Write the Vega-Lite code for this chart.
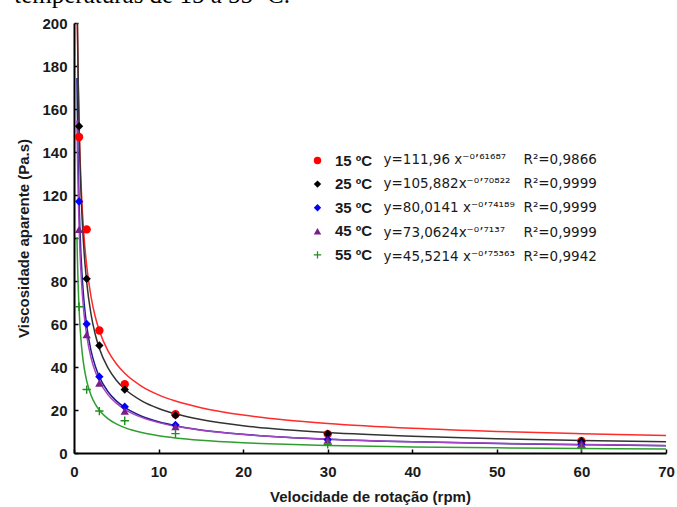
{
  "$schema": "https://vega.github.io/schema/vega-lite/v6.json",
  "width": 592,
  "height": 430,
  "autosize": {"type": "none"},
  "padding": {"left": 74, "top": 23, "right": 11, "bottom": 54},
  "background": "white",
  "config": {"view": {"stroke": null}},
  "title": {
    "text": "temperaturas de 15 a 55 ºC.",
    "anchor": "end",
    "orient": "top",
    "frame": "group",
    "font": "Liberation Serif",
    "fontSize": 25,
    "fontWeight": "normal",
    "color": "#000000",
    "baseline": "alphabetic",
    "offset": 0,
    "dx": -376,
    "dy": 12
  },
  "datasets": {
    "curves": [
      {"T": "15 ºC", "x": 0.35, "y": 213.9}, {"T": "15 ºC", "x": 0.4, "y": 197.0}, {"T": "15 ºC", "x": 0.5, "y": 171.7}, {"T": "15 ºC", "x": 0.6, "y": 153.4}, {"T": "15 ºC", "x": 0.7, "y": 139.5}, {"T": "15 ºC", "x": 0.8, "y": 128.5}, {"T": "15 ºC", "x": 1, "y": 111.96}, {"T": "15 ºC", "x": 1.2, "y": 100.05}, {"T": "15 ºC", "x": 1.5, "y": 87.18}, {"T": "15 ºC", "x": 2, "y": 73.01}, {"T": "15 ºC", "x": 2.5, "y": 63.62}, {"T": "15 ºC", "x": 3, "y": 56.85}, {"T": "15 ºC", "x": 4, "y": 47.61}, {"T": "15 ºC", "x": 5, "y": 41.49}, {"T": "15 ºC", "x": 6, "y": 37.07}, {"T": "15 ºC", "x": 8, "y": 31.04}, {"T": "15 ºC", "x": 10, "y": 27.05}, {"T": "15 ºC", "x": 12, "y": 24.17}, {"T": "15 ºC", "x": 15, "y": 21.07}, {"T": "15 ºC", "x": 20, "y": 17.64}, {"T": "15 ºC", "x": 25, "y": 15.37}, {"T": "15 ºC", "x": 30, "y": 13.74}, {"T": "15 ºC", "x": 40, "y": 11.5}, {"T": "15 ºC", "x": 50, "y": 10.02}, {"T": "15 ºC", "x": 60, "y": 8.96}, {"T": "15 ºC", "x": 70, "y": 8.14},
      {"T": "25 ºC", "x": 0.35, "y": 222.7}, {"T": "25 ºC", "x": 0.4, "y": 202.6}, {"T": "25 ºC", "x": 0.5, "y": 173.0}, {"T": "25 ºC", "x": 0.6, "y": 152.0}, {"T": "25 ºC", "x": 0.7, "y": 136.3}, {"T": "25 ºC", "x": 0.8, "y": 124.0}, {"T": "25 ºC", "x": 1, "y": 105.88}, {"T": "25 ºC", "x": 1.2, "y": 93.06}, {"T": "25 ºC", "x": 1.5, "y": 79.45}, {"T": "25 ºC", "x": 2, "y": 64.81}, {"T": "25 ºC", "x": 2.5, "y": 55.33}, {"T": "25 ºC", "x": 3, "y": 48.63}, {"T": "25 ºC", "x": 4, "y": 39.67}, {"T": "25 ºC", "x": 5, "y": 33.87}, {"T": "25 ºC", "x": 6, "y": 29.77}, {"T": "25 ºC", "x": 8, "y": 24.28}, {"T": "25 ºC", "x": 10, "y": 20.73}, {"T": "25 ºC", "x": 12, "y": 18.22}, {"T": "25 ºC", "x": 15, "y": 15.56}, {"T": "25 ºC", "x": 20, "y": 12.69}, {"T": "25 ºC", "x": 25, "y": 10.83}, {"T": "25 ºC", "x": 30, "y": 9.52}, {"T": "25 ºC", "x": 40, "y": 7.77}, {"T": "25 ºC", "x": 50, "y": 6.63}, {"T": "25 ºC", "x": 60, "y": 5.83}, {"T": "25 ºC", "x": 70, "y": 5.23},
      {"T": "35 ºC", "x": 0.35, "y": 174.4}, {"T": "35 ºC", "x": 0.4, "y": 157.9}, {"T": "35 ºC", "x": 0.5, "y": 133.8}, {"T": "35 ºC", "x": 0.6, "y": 116.9}, {"T": "35 ºC", "x": 0.7, "y": 104.25}, {"T": "35 ºC", "x": 0.8, "y": 94.42}, {"T": "35 ºC", "x": 1, "y": 80.01}, {"T": "35 ºC", "x": 1.2, "y": 69.89}, {"T": "35 ºC", "x": 1.5, "y": 59.23}, {"T": "35 ºC", "x": 2, "y": 47.84}, {"T": "35 ºC", "x": 2.5, "y": 40.54}, {"T": "35 ºC", "x": 3, "y": 35.42}, {"T": "35 ºC", "x": 4, "y": 28.61}, {"T": "35 ºC", "x": 5, "y": 24.24}, {"T": "35 ºC", "x": 6, "y": 21.18}, {"T": "35 ºC", "x": 8, "y": 17.11}, {"T": "35 ºC", "x": 10, "y": 14.5}, {"T": "35 ºC", "x": 12, "y": 12.66}, {"T": "35 ºC", "x": 15, "y": 10.73}, {"T": "35 ºC", "x": 20, "y": 8.67}, {"T": "35 ºC", "x": 25, "y": 7.35}, {"T": "35 ºC", "x": 30, "y": 6.42}, {"T": "35 ºC", "x": 40, "y": 5.18}, {"T": "35 ºC", "x": 50, "y": 4.39}, {"T": "35 ºC", "x": 60, "y": 3.84}, {"T": "35 ºC", "x": 70, "y": 3.42},
      {"T": "45 ºC", "x": 0.35, "y": 154.6}, {"T": "45 ºC", "x": 0.4, "y": 140.5}, {"T": "45 ºC", "x": 0.5, "y": 119.8}, {"T": "45 ºC", "x": 0.6, "y": 105.2}, {"T": "45 ºC", "x": 0.7, "y": 94.24}, {"T": "45 ºC", "x": 0.8, "y": 85.68}, {"T": "45 ºC", "x": 1, "y": 73.06}, {"T": "45 ºC", "x": 1.2, "y": 64.15}, {"T": "45 ºC", "x": 1.5, "y": 54.7}, {"T": "45 ºC", "x": 2, "y": 44.55}, {"T": "45 ºC", "x": 2.5, "y": 37.99}, {"T": "45 ºC", "x": 3, "y": 33.36}, {"T": "45 ºC", "x": 4, "y": 27.16}, {"T": "45 ºC", "x": 5, "y": 23.17}, {"T": "45 ºC", "x": 6, "y": 20.34}, {"T": "45 ºC", "x": 8, "y": 16.56}, {"T": "45 ºC", "x": 10, "y": 14.13}, {"T": "45 ºC", "x": 12, "y": 12.4}, {"T": "45 ºC", "x": 15, "y": 10.58}, {"T": "45 ºC", "x": 20, "y": 8.61}, {"T": "45 ºC", "x": 25, "y": 7.34}, {"T": "45 ºC", "x": 30, "y": 6.45}, {"T": "45 ºC", "x": 40, "y": 5.25}, {"T": "45 ºC", "x": 50, "y": 4.48}, {"T": "45 ºC", "x": 60, "y": 3.93}, {"T": "45 ºC", "x": 70, "y": 3.52},
      {"T": "55 ºC", "x": 0.35, "y": 100.4}, {"T": "55 ºC", "x": 0.4, "y": 90.8}, {"T": "55 ºC", "x": 0.5, "y": 76.75}, {"T": "55 ºC", "x": 0.6, "y": 66.9}, {"T": "55 ºC", "x": 0.7, "y": 59.56}, {"T": "55 ºC", "x": 0.8, "y": 53.86}, {"T": "55 ºC", "x": 1, "y": 45.52}, {"T": "55 ºC", "x": 1.2, "y": 39.68}, {"T": "55 ºC", "x": 1.5, "y": 33.54}, {"T": "55 ºC", "x": 2, "y": 27.0}, {"T": "55 ºC", "x": 2.5, "y": 22.82}, {"T": "55 ºC", "x": 3, "y": 19.89}, {"T": "55 ºC", "x": 4, "y": 16.01}, {"T": "55 ºC", "x": 5, "y": 13.53}, {"T": "55 ºC", "x": 6, "y": 11.8}, {"T": "55 ºC", "x": 8, "y": 9.5}, {"T": "55 ºC", "x": 10, "y": 8.03}, {"T": "55 ºC", "x": 12, "y": 7.0}, {"T": "55 ºC", "x": 15, "y": 5.91}, {"T": "55 ºC", "x": 20, "y": 4.76}, {"T": "55 ºC", "x": 25, "y": 4.02}, {"T": "55 ºC", "x": 30, "y": 3.51}, {"T": "55 ºC", "x": 40, "y": 2.82}, {"T": "55 ºC", "x": 50, "y": 2.39}, {"T": "55 ºC", "x": 60, "y": 2.08}, {"T": "55 ºC", "x": 70, "y": 1.85}
    ],
    "points": [
      {"T": "15 ºC", "x": 0.6, "y": 147}, {"T": "15 ºC", "x": 1.5, "y": 104}, {"T": "15 ºC", "x": 3, "y": 57}, {"T": "15 ºC", "x": 6, "y": 32}, {"T": "15 ºC", "x": 12, "y": 18}, {"T": "15 ºC", "x": 30, "y": 8.8}, {"T": "15 ºC", "x": 60, "y": 5.6},
      {"T": "25 ºC", "x": 0.6, "y": 152}, {"T": "25 ºC", "x": 1.5, "y": 81}, {"T": "25 ºC", "x": 3, "y": 50}, {"T": "25 ºC", "x": 6, "y": 29.5}, {"T": "25 ºC", "x": 12, "y": 17.5}, {"T": "25 ºC", "x": 30, "y": 9}, {"T": "25 ºC", "x": 60, "y": 5.5},
      {"T": "35 ºC", "x": 0.6, "y": 117}, {"T": "35 ºC", "x": 1.5, "y": 60}, {"T": "35 ºC", "x": 3, "y": 35.5}, {"T": "35 ºC", "x": 6, "y": 21.5}, {"T": "35 ºC", "x": 12, "y": 13}, {"T": "35 ºC", "x": 30, "y": 6.2}, {"T": "35 ºC", "x": 60, "y": 4.2},
      {"T": "45 ºC", "x": 0.6, "y": 104}, {"T": "45 ºC", "x": 1.5, "y": 55}, {"T": "45 ºC", "x": 3, "y": 32.5}, {"T": "45 ºC", "x": 6, "y": 19.5}, {"T": "45 ºC", "x": 12, "y": 12.3}, {"T": "45 ºC", "x": 30, "y": 6}, {"T": "45 ºC", "x": 60, "y": 4.3},
      {"T": "55 ºC", "x": 0.6, "y": 68}, {"T": "55 ºC", "x": 1.5, "y": 29.5}, {"T": "55 ºC", "x": 3, "y": 19.5}, {"T": "55 ºC", "x": 6, "y": 15}, {"T": "55 ºC", "x": 12, "y": 9}, {"T": "55 ºC", "x": 30, "y": 4}, {"T": "55 ºC", "x": 60, "y": 2.5}
    ],
    "leg": [
      {"e": "y=111,96 x⁻⁰’⁶¹⁶⁸⁷", "r": "15"},
      {"e": "y=105,882x⁻⁰’⁷⁰⁸²²", "r": "25"},
      {"e": "y=80,0141 x⁻⁰’⁷⁴¹⁸⁹", "r": "35"},
      {"e": "y=73,0624x⁻⁰’⁷¹³⁷", "r": "45"},
      {"e": "y=45,5214 x⁻⁰’⁷⁵³⁶³", "r": "55"}
    ]
  },
  "layer": [
    {
      "data": {"name": "curves"},
      "mark": {"type": "line", "interpolate": "monotone", "clip": true, "strokeWidth": 1.5},
      "encoding": {
        "x": {
          "field": "x", "type": "quantitative",
          "scale": {"domain": [0, 70], "nice": false, "zero": false},
          "axis": {
            "values": [0, 10, 20, 30, 40, 50, 60, 70],
            "title": "Velocidade de rotação (rpm)",
            "grid": false,
            "labelFont": "Liberation Sans", "labelFontWeight": "bold", "labelFontSize": 15, "labelColor": "#1a1a1a",
            "labelPadding": 15, "labelFlush": false,
            "tickSize": -4, "tickColor": "#000000", "tickWidth": 1.5,
            "domainColor": "#000000", "domainWidth": 2,
            "titleFont": "Liberation Sans", "titleFontWeight": "bold", "titleFontSize": 15, "titleColor": "#1a1a1a",
            "titlePadding": 10
          }
        },
        "y": {
          "field": "y", "type": "quantitative",
          "scale": {"domain": [0, 200], "nice": false},
          "axis": {
            "values": [0, 20, 40, 60, 80, 100, 120, 140, 160, 180, 200],
            "title": "Viscosidade aparente (Pa.s)",
            "grid": false,
            "labelFont": "Liberation Sans", "labelFontWeight": "bold", "labelFontSize": 15, "labelColor": "#1a1a1a",
            "labelPadding": 11, "labelFlush": false,
            "tickSize": -4, "tickColor": "#000000", "tickWidth": 1.5,
            "domainColor": "#000000", "domainWidth": 2,
            "titleFont": "Liberation Sans", "titleFontWeight": "bold", "titleFontSize": 15, "titleColor": "#1a1a1a",
            "titlePadding": 10
          }
        },
        "stroke": {
          "field": "T", "type": "nominal",
          "scale": {"range": ["#ff2a2a", "#333333", "#1f1f8c", "#a344c4", "#2e9e2e"]},
          "legend": null
        }
      }
    },
    {
      "data": {"name": "points"},
      "mark": {"type": "point", "filled": true, "opacity": 1, "size": 70},
      "encoding": {
        "x": {"field": "x", "type": "quantitative"},
        "y": {"field": "y", "type": "quantitative"},
        "color": {
          "field": "T", "type": "nominal",
          "scale": {"domain": ["15 ºC", "25 ºC", "35 ºC", "45 ºC", "55 ºC"], "range": ["#ff0000", "#000000", "#0000ff", "#7a1f8a", "#1f8f1f"]},
          "legend": {
            "orient": "none", "legendX": 236, "legendY": 130, "title": null,
            "labelFont": "Liberation Sans", "labelFontWeight": "bold", "labelFontSize": 15, "labelColor": "#1a1a1a",
            "labelOffset": 10, "rowPadding": 7.6, "symbolSize": 55, "padding": 0
          }
        },
        "shape": {
          "field": "T", "type": "nominal",
          "scale": {"domain": ["15 ºC", "25 ºC", "35 ºC", "45 ºC", "55 ºC"], "range": ["circle", "diamond", "diamond", "triangle-up", "M-1,-0.17H1V0.17H-1Z M-0.17,-1H0.17V1H-0.17Z"]}
        }
      }
    },
    {
      "data": {"name": "leg"},
      "mark": {"type": "point", "opacity": 0},
      "encoding": {
        "strokeDash": {
          "field": "e", "type": "nominal",
          "scale": {"domain": ["y=111,96 x⁻⁰’⁶¹⁶⁸⁷", "y=105,882x⁻⁰’⁷⁰⁸²²", "y=80,0141 x⁻⁰’⁷⁴¹⁸⁹", "y=73,0624x⁻⁰’⁷¹³⁷", "y=45,5214 x⁻⁰’⁷⁵³⁶³"], "range": [[1, 0], [1, 0], [1, 0], [1, 0], [1, 0]]},
          "legend": {
            "orient": "none", "legendX": 296, "legendY": 130.5, "title": null,
            "labelFont": "DejaVu Sans", "labelFontSize": 13.5, "labelColor": "#1a1a1a",
            "labelOffset": 0, "rowPadding": 9.1, "symbolSize": 1, "symbolOpacity": 0, "symbolStrokeWidth": 0, "padding": 0
          }
        },
        "fill": {
          "field": "r", "type": "nominal",
          "scale": {"domain": ["15", "25", "35", "45", "55"], "range": ["transparent", "transparent", "transparent", "transparent", "transparent"]},
          "legend": {
            "orient": "none", "legendX": 436, "legendY": 130.5, "title": null,
            "labelExpr": "datum.label == '15' ? 'R²=0,9866' : datum.label == '55' ? 'R²=0,9942' : 'R²=0,9999'",
            "labelFont": "DejaVu Sans", "labelFontSize": 13.5, "labelColor": "#1a1a1a",
            "labelOffset": 0, "rowPadding": 9.1, "symbolSize": 1, "symbolOpacity": 0, "symbolStrokeWidth": 0, "padding": 0
          }
        }
      }
    }
  ]
}
